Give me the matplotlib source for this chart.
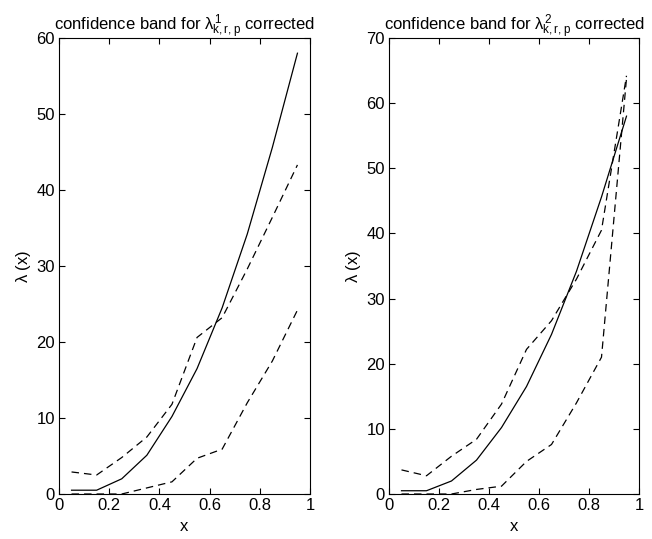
import matplotlib
matplotlib.use("Agg")
import matplotlib.pyplot as plt

plt.rcParams['font.family'] = ['Liberation Sans', 'DejaVu Sans']
plt.rcParams['mathtext.fontset'] = 'custom'
plt.rcParams['mathtext.rm'] = 'Liberation Sans'
plt.rcParams['mathtext.it'] = 'Liberation Sans'
plt.rcParams['mathtext.bf'] = 'Liberation Sans'

x = [0.05, 0.15, 0.25, 0.35, 0.45, 0.55, 0.65, 0.75, 0.85, 0.95]

# left panel: lambda^1
est1 = [0.5, 0.5, 2.0, 5.1, 10.2, 16.5, 24.5, 34.2, 45.6, 58.0]
upper1 = [2.9, 2.5, 4.8, 7.5, 11.8, 20.6, 23.2, 29.6, 36.4, 43.3]
lower1 = [0.0, 0.0, 0.0, 0.8, 1.6, 4.7, 5.9, 12.0, 17.5, 24.2]

# right panel: lambda^2
est2 = [0.5, 0.5, 2.0, 5.2, 10.2, 16.5, 24.5, 34.2, 45.6, 58.0]
upper2 = [3.7, 2.8, 5.8, 8.4, 13.8, 22.2, 26.6, 33.0, 40.5, 64.2]
lower2 = [0.0, 0.0, 0.0, 0.7, 1.2, 5.0, 7.6, 14.0, 21.0, 63.8]

titles = [r'confidence band for $\lambda^{1}_{k,r,p}$ corrected',
          r'confidence band for $\lambda^{2}_{k,r,p}$ corrected']
ymax = [60, 70]

fig = plt.figure(figsize=(6.52, 5.39), dpi=100)
W, H = 652, 539
boxes = [(59, 38, 310, 494), (389, 38, 639, 494)]

for i, (l, t, r, b) in enumerate(boxes):
    ax = fig.add_axes([l / W, 1 - b / H, (r - l) / W, (b - t) / H])
    est, up, lo = [(est1, upper1, lower1), (est2, upper2, lower2)][i]
    ax.plot(x, est, color='black', lw=0.9, ls='-')
    ax.plot(x, up, color='black', lw=0.9, ls=(0, (6, 4)))
    ax.plot(x, lo, color='black', lw=0.9, ls=(0, (6, 4)))
    ax.set_xlim(0, 1)
    ax.set_ylim(0, ymax[i])
    ax.set_xticks([0, 0.2, 0.4, 0.6, 0.8, 1])
    ax.set_xticklabels(['0', '0.2', '0.4', '0.6', '0.8', '1'])
    ax.set_yticks(range(0, ymax[i] + 1, 10))
    ax.tick_params(direction='in', top=True, right=True, length=4,
                   labelsize=12, width=0.8, pad=3)
    for s in ax.spines.values():
        s.set_linewidth(0.8)
    ax.set_xlabel('x', fontsize=12, labelpad=4)
    ax.set_ylabel(r'$\lambda$ (x)', fontsize=12, labelpad=2)
    ax.set_title(titles[i], fontsize=12, pad=5)

fig.savefig('out.png', dpi=100)
